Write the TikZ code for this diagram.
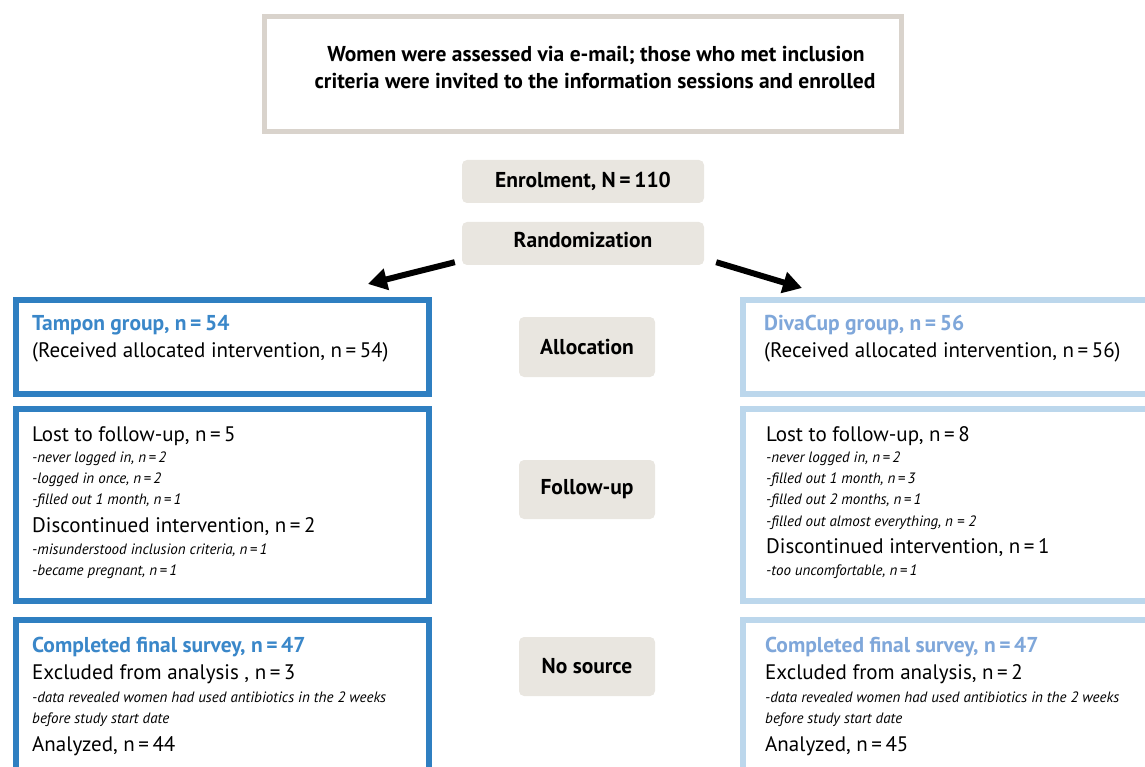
\documentclass[tikz,border=0pt]{standalone}
\usepackage{fontspec}
\setmainfont{PT Sans}
\usetikzlibrary{arrows.meta}
\definecolor{topgray}{HTML}{D9D3CC}
\definecolor{boxfill}{HTML}{E9E6E0}
\definecolor{darkblue}{HTML}{2F7FC1}
\definecolor{lightblue}{HTML}{BCD7EC}
\definecolor{headblue}{HTML}{3A87C9}
\definecolor{headlight}{HTML}{7FA7DA}
\tikzset{
  grpbox/.style={draw, line width=6pt, fill=white, minimum width=413pt, inner sep=0pt},
  darkbox/.style={grpbox, draw=darkblue},
  lightbox/.style={grpbox, draw=lightblue},
  stagebox/.style={fill=boxfill, rounded corners=5pt, inner sep=0pt, font=\fontsize{21.5}{24}\selectfont\bfseries},
  bigline/.style={anchor=base west, inner sep=0pt, font=\fontsize{21}{24}\selectfont},
  headline/.style={bigline, font=\fontsize{21.5}{24}\selectfont\bfseries},
  smallline/.style={anchor=base west, inner sep=0pt, font=\fontsize{15}{18}\selectfont\itshape},
  topline/.style={anchor=base, inner sep=0pt, font=\fontsize{21.5}{24}\selectfont\bfseries},
  bigarrow/.style={line width=6pt, -{Triangle[length=19pt,width=21pt]}}
}
\begin{document}
\begin{tikzpicture}[x=1pt,y=-1pt]
\useasboundingbox (0,0) rectangle (1145,767);
% top box
\node[draw=topgray, line width=5pt, minimum width=637pt, minimum height=115pt, inner sep=0pt] (top) at (583,74) {};
\node[topline] (t1) at (596,62) {Women were assessed via e-mail; those who met inclusion};
\node[topline] (t2) at (595,89) {criteria were invited to the information sessions and enrolled};
% stage boxes
\node[stagebox, minimum width=242pt, minimum height=43pt] (enrol) at (583,181.5) {Enrolment, N\,=\,110};
\node[stagebox, minimum width=242pt, minimum height=43pt, text depth=7pt] (rand) at (583,243.5) {Randomization};
\node[stagebox, minimum width=136pt, minimum height=60pt] (alloc) at (587,347) {Allocation};
\node[stagebox, minimum width=136pt, minimum height=59pt] (follow) at (587,489.5) {Follow-up};
\node[stagebox, minimum width=136pt, minimum height=59pt] (nosrc) at (587,666.5) {No source};
% arrows
\coordinate (la) at (368,284);
\coordinate (ra) at (802,288);
\draw[bigarrow] ([shift={(-7,-3)}]rand.south west) -- (la);
\draw[bigarrow] ([shift={(12,-3)}]rand.south east) -- (ra);
% left boxes
\node[darkbox, minimum height=94pt] (L1) at (222.5,347) {};
\node[darkbox, minimum height=192pt] (L2) at (222.5,505) {};
\node[darkbox, minimum height=200pt] (L3) at (222.5,720) {};
% right boxes
\node[lightbox, minimum height=94pt] (R1) at (949.5,347) {};
\node[lightbox, minimum height=192pt] (R2) at (949.5,505) {};
\node[lightbox, minimum height=200pt] (R3) at (949.5,720) {};
% left texts
\node[headline, text=headblue] (l11) at (32,330) {Tampon group, n\,=\,54};
\node[bigline] (l12) at (32,357) {(Received allocated intervention, n\,=\,54)};
\node[bigline] (l21) at (32,441) {Lost to follow-up, n\,=\,5};
\node[smallline] (l22) at (32,462) {-never logged in, n\,=\,2};
\node[smallline] (l23) at (32,483) {-logged in once, n\,=\,2};
\node[smallline] (l24) at (32,504) {-filled out 1 month, n\,=\,1};
\node[bigline] (l25) at (32,532) {Discontinued intervention, n\,=\,2};
\node[smallline] (l26) at (32,554) {-misunderstood inclusion criteria, n\,=\,1};
\node[smallline] (l27) at (32,575) {-became pregnant, n\,=\,1};
\node[headline, text=headblue] (l31) at (32,652) {Completed final survey, n\,=\,47};
\node[bigline] (l32) at (32,679) {Excluded from analysis , n\,=\,3};
\node[smallline] (l33) at (32,702) {-data revealed women had used antibiotics in the 2 weeks};
\node[smallline] (l34) at (32,723) {before study start date};
\node[bigline] (l35) at (32,751) {Analyzed, n\,=\,44};
% right texts
\node[headline, text=headlight] (r11) at (764,330) {DivaCup group, n\,=\,56};
\node[bigline] (r12) at (764,357) {(Received allocated intervention, n\,=\,56)};
\node[bigline] (r21) at (766,441) {Lost to follow-up, n\,=\,8};
\node[smallline] (r22) at (766,462) {-never logged in, n\,=\,2};
\node[smallline] (r23) at (766,483) {-filled out 1 month, n\,=\,3};
\node[smallline] (r24) at (766,504) {-filled out 2 months, n\,=\,1};
\node[smallline] (r25) at (766,526) {-filled out almost everything, n = 2};
\node[bigline] (r26) at (766,553) {Discontinued intervention, n\,=\,1};
\node[smallline] (r27) at (766,575) {-too uncomfortable, n\,=\,1};
\node[headline, text=headlight] (r31) at (765,652) {Completed final survey, n\,=\,47};
\node[bigline] (r32) at (765,679) {Excluded from analysis, n\,=\,2};
\node[smallline] (r33) at (765,702) {-data revealed women had used antibiotics in the 2 weeks};
\node[smallline] (r34) at (765,723) {before study start date};
\node[bigline] (r35) at (765,751) {Analyzed, n\,=\,45};
\end{tikzpicture}
\end{document}
